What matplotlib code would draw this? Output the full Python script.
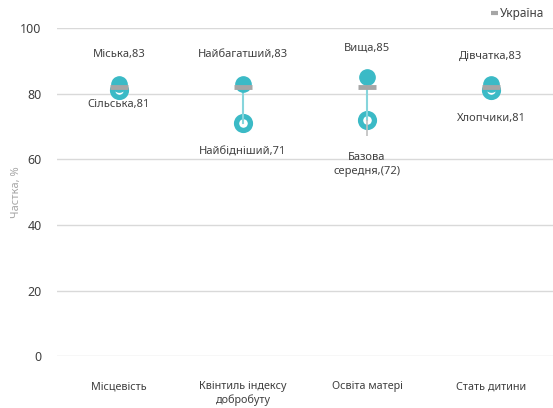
import matplotlib
matplotlib.use("Agg")
from matplotlib import pyplot as plt
from matplotlib.lines import Line2D

plt.rcParams['font.family'] = ['Noto Sans', 'DejaVu Sans']

# groups on the x axis
categories = ['Місцевість', 'Квінтиль індексу\nдобробуту', 'Освіта матері', 'Стать дитини']
# best and worst subgroup in each group
high_vals = [83, 83, 85, 83]
low_vals = [81, 71, 72, 81]
high_names = ['Міська', 'Найбагатший', 'Вища', 'Дівчатка']
low_names = ['Сільська', 'Найбідніший', 'Базова\nсередня', 'Хлопчики']
low_fmt = ['{},{}', '{},{}', '{},({})', '{},{}']
# national average
ukraine = [82, 82, 82, 82]
# interval shown for the base-secondary group
edu_ci = (67, 72)

teal = '#3bbac6'
teal_light = '#86d5dc'
grey = '#a6a6a6'
txt = '#404040'

fig = plt.figure(figsize=(5.53, 4.08), dpi=100)
ax = fig.add_axes([0.103, 0.127, 0.897, 0.804])

x = list(range(len(categories)))

ax.vlines(2, edu_ci[0], edu_ci[1], color='#bfbfbf', lw=1.2, zorder=5)
for i in x:
    ax.plot([i, i], [low_vals[i], high_vals[i]], color=teal_light, lw=1.5, zorder=4)

ax.plot(x, low_vals, 'o', ms=10, mfc='white', mec=teal, mew=3.8, ls='none', zorder=3)
ax.plot(x, high_vals, 'o', ms=11, color=teal, ls='none', zorder=6)
ax.plot(x, ukraine, '_', ms=13, mew=3.5, color=grey, ls='none', zorder=7)

up_off = [21, 21, 21, 20]
down_off = [-10, -21, -32, -20]
for i in x:
    ax.annotate('{},{}'.format(high_names[i], high_vals[i]), (i, high_vals[i]),
                xytext=(0, up_off[i]), textcoords='offset points',
                ha='center', va='center', fontsize=8, color=txt)
    ax.annotate(low_fmt[i].format(low_names[i], low_vals[i]), (i, low_vals[i]),
                xytext=(0, down_off[i]), textcoords='offset points',
                ha='center', va='center', fontsize=8, color=txt, linespacing=1.3)

ax.set_xlim(-0.5, 3.5)
ax.set_ylim(0, 100)
ax.set_yticks([0, 20, 40, 60, 80, 100])
ax.set_xticks(x)
ax.set_xticklabels(categories, fontsize=7.8, color=txt, linespacing=1.25)
ax.tick_params(axis='y', labelsize=9, colors=txt, length=0, pad=11)
ax.tick_params(axis='x', length=0, pad=18)
ax.grid(axis='y', color='#d9d9d9', lw=1)
ax.set_axisbelow(True)
for s in ax.spines.values():
    s.set_visible(False)
ax.set_ylabel('Частка, %', fontsize=8, color='#a6a6a6')
ax.yaxis.set_label_coords(-0.07, 0.5)

handle = Line2D([], [], color=grey, lw=3, solid_capstyle='butt')
ax.legend([handle], ['Україна'], loc='lower right', bbox_to_anchor=(1.0, 1.0),
          frameon=False, fontsize=8.5, handlelength=0.6, handletextpad=0.2,
          borderaxespad=0.3, labelcolor=txt)

fig.savefig('out.png', dpi=100)
